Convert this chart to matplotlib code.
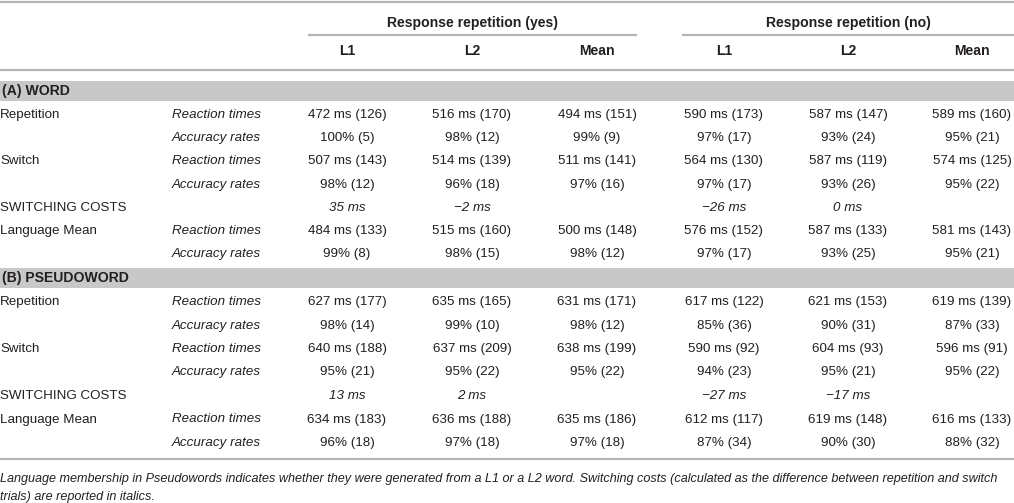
import matplotlib.pyplot as plt
from matplotlib.patches import Rectangle

plt.rcParams.update({"font.family": ["Liberation Sans", "DejaVu Sans"]})

W, H = 1014, 503
TXT = "#231f20"
RULE = "#b4b4b4"
BAND = "#c8c8c8"

groups = ["Response repetition (yes)", "Response repetition (no)"]
subcols = ["L1", "L2", "Mean"]

conditions = ["Repetition", "Switch", "SWITCHING COSTS", "Language Mean"]
measures = ["Reaction times", "Accuracy rates"]

word_rt = [
    ["472 ms (126)", "516 ms (170)", "494 ms (151)", "590 ms (173)", "587 ms (147)", "589 ms (160)"],
    ["507 ms (143)", "514 ms (139)", "511 ms (141)", "564 ms (130)", "587 ms (119)", "574 ms (125)"],
    ["484 ms (133)", "515 ms (160)", "500 ms (148)", "576 ms (152)", "587 ms (133)", "581 ms (143)"],
]
word_acc = [
    ["100% (5)", "98% (12)", "99% (9)", "97% (17)", "93% (24)", "95% (21)"],
    ["98% (12)", "96% (18)", "97% (16)", "97% (17)", "93% (26)", "95% (22)"],
    ["99% (8)", "98% (15)", "98% (12)", "97% (17)", "93% (25)", "95% (21)"],
]
word_cost = ["35 ms", "\u22122 ms", "", "\u221226 ms", "0 ms", ""]

pseudo_rt = [
    ["627 ms (177)", "635 ms (165)", "631 ms (171)", "617 ms (122)", "621 ms (153)", "619 ms (139)"],
    ["640 ms (188)", "637 ms (209)", "638 ms (199)", "590 ms (92)", "604 ms (93)", "596 ms (91)"],
    ["634 ms (183)", "636 ms (188)", "635 ms (186)", "612 ms (117)", "619 ms (148)", "616 ms (133)"],
]
pseudo_acc = [
    ["98% (14)", "99% (10)", "98% (12)", "85% (36)", "90% (31)", "87% (33)"],
    ["95% (21)", "95% (22)", "95% (22)", "94% (23)", "95% (21)", "95% (22)"],
    ["96% (18)", "97% (18)", "97% (18)", "87% (34)", "90% (30)", "88% (32)"],
]
pseudo_cost = ["13 ms", "2 ms", "", "\u221227 ms", "\u221217 ms", ""]

footnote = [
    "Language membership in Pseudowords indicates whether they were generated from a L1 or a L2 word. "
    "Switching costs (calculated as the difference between repetition and switch",
    "trials) are reported in italics.",
]

col_x = [347, 472, 597, 724, 848, 972]
group_span = [(308, 637), (682, 1014)]

fig = plt.figure(figsize=(W / 100, H / 100), dpi=100)
ax = fig.add_axes([0, 0, 1, 1])
ax.set_xlim(0, W)
ax.set_ylim(H, 0)
ax.axis("off")

FS = 9.6
FS_HEAD = 10.1


def hline(y, x0=0, x1=W, lw=1.6):
    ax.plot([x0, x1], [y, y], color=RULE, lw=lw, solid_capstyle="butt")


def txt(x, y, s, ha="center", **kw):
    ax.text(x, y, s, ha=ha, va="center", color=TXT, fontsize=kw.pop("fs", FS), **kw)


# header
hline(2)
for g, (x0, x1) in zip(groups, group_span):
    txt((x0 + x1) / 2, 23, g, weight="bold", fs=FS_HEAD)
    hline(35, x0, x1)
for i, x in enumerate(col_x):
    txt(x, 51, subcols[i % 3], weight="bold", fs=FS_HEAD)
hline(70)


def block(title, y_band, y0, step, rt, acc, cost):
    ax.add_patch(Rectangle((0, y_band), W, 20, color=BAND, lw=0))
    txt(2, y_band + 10, title, ha="left", weight="bold", fs=FS_HEAD)
    ys = [y0 + step * i for i in range(7)]
    for k in range(2):
        yr, ya = ys[2 * k], ys[2 * k + 1]
        txt(0, yr, conditions[k], ha="left")
        txt(172, yr, measures[0], ha="left", style="italic")
        txt(172, ya, measures[1], ha="left", style="italic")
        for j, x in enumerate(col_x):
            txt(x, yr, rt[k][j])
            txt(x, ya, acc[k][j])
    txt(0, ys[4], conditions[2], ha="left")
    for j, x in enumerate(col_x):
        if cost[j]:
            txt(x, ys[4], cost[j], style="italic")
    txt(0, ys[5], conditions[3], ha="left")
    txt(172, ys[5], measures[0], ha="left", style="italic")
    txt(172, ys[6], measures[1], ha="left", style="italic")
    for j, x in enumerate(col_x):
        txt(x, ys[5], rt[2][j])
        txt(x, ys[6], acc[2][j])


block("(A) WORD", 81, 115, 23.2, word_rt, word_acc, word_cost)
block("(B) PSEUDOWORD", 268, 302, 23.5, pseudo_rt, pseudo_acc, pseudo_cost)

hline(459)
txt(0, 479, footnote[0], ha="left", style="italic", fs=9.1)
txt(0, 497, footnote[1], ha="left", style="italic", fs=9.1)

fig.savefig("out.png", dpi=100, facecolor="white")
